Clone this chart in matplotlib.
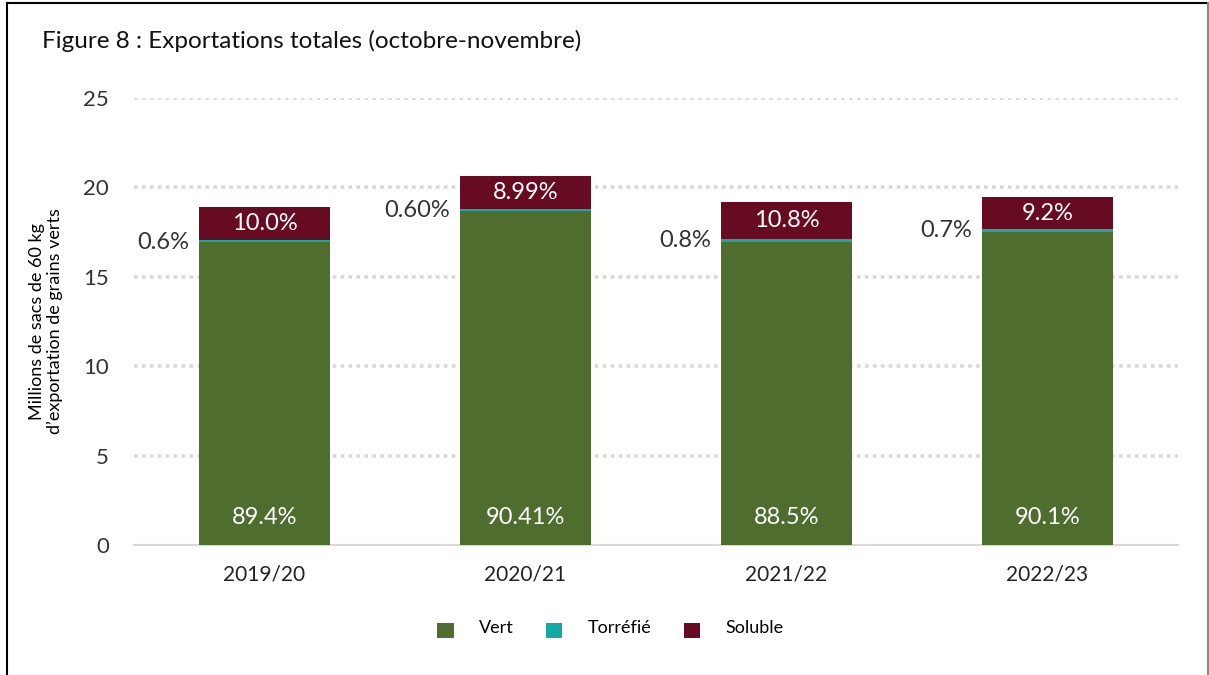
import matplotlib
matplotlib.use("Agg")
import matplotlib.pyplot as plt
from matplotlib.lines import Line2D
import numpy as np

categories = ["2019/20", "2020/21", "2021/22", "2022/23"]
vert = [16.92, 18.66, 16.97, 17.53]
torrefie = [0.12, 0.13, 0.15, 0.14]
soluble = [1.89, 1.85, 2.07, 1.79]
vert_labels = ["89.4%", "90.41%", "88.5%", "90.1%"]
torrefie_labels = ["0.6%", "0.60%", "0.8%", "0.7%"]
soluble_labels = ["10.0%", "8.99%", "10.8%", "9.2%"]
yticks = [0, 5, 10, 15, 20, 25]

c_vert = "#4E6D2F"
c_torr = "#14A9A3"
c_sol = "#670B22"

plt.rcParams['font.family'] = ['Lato', 'DejaVu Sans']

fig = plt.figure(figsize=(12.09, 6.75), dpi=100)
ax = fig.add_axes([0.1108, 0.1926, 0.8636, 0.6622])

x = np.arange(len(categories))
w = 0.5
b1 = ax.bar(x, vert, w, color=c_vert, label="Vert", zorder=3)
b2 = ax.bar(x, torrefie, w, bottom=vert, color=c_torr, label="Torréfié", zorder=3)
bottom3 = [v + t for v, t in zip(vert, torrefie)]
b3 = ax.bar(x, soluble, w, bottom=bottom3, color=c_sol, label="Soluble", zorder=3)

ax.set_xlim(-0.5, len(categories) - 0.5)
ax.set_ylim(0, 25)
ax.set_yticks(yticks)
ax.set_yticklabels([str(t) for t in yticks], fontsize=16, color="#333333")
ax.set_xticks(x)
ax.set_xticklabels(categories, fontsize=15, color="#222222")
ax.tick_params(axis="both", length=0)
ax.tick_params(axis="y", pad=18)
ax.tick_params(axis="x", pad=14)

for t in yticks[1:]:
    ax.axhline(t, color="#D9D9D9", linestyle=(0, (1, 1.2)), linewidth=2.6, zorder=1)
for s in ["top", "right", "left"]:
    ax.spines[s].set_visible(False)
ax.spines["bottom"].set_color("#D9D9D9")
ax.spines["bottom"].set_linewidth(1.5)

for i in range(len(categories)):
    ax.text(x[i], 1.55, vert_labels[i], ha="center", va="center", color="white", fontsize=17)
    ax.text(x[i], bottom3[i] + soluble[i] / 2, soluble_labels[i], ha="center", va="center",
            color="white", fontsize=17)
    ax.text(x[i] - w / 2 - 0.04, bottom3[i] - 0.1, torrefie_labels[i], ha="right", va="center",
            color="#333333", fontsize=17)

ax.set_ylabel("Millions de sacs de 60 kg\nd\u2019exportation de grains verts", fontsize=13,
              linespacing=1.1)
ax.yaxis.set_label_coords(-0.068, 0.5)

fig.text(0.035, 0.94, "Figure 8 : Exportations totales (octobre-novembre)", fontsize=17.5,
         ha="left", va="center", color="#111111")

leg = fig.legend(handles=[b1, b2, b3], labels=["Vert", "Torréfié", "Soluble"],
                 loc="center", bbox_to_anchor=(0.505, 0.064), ncol=3, frameon=False,
                 fontsize=13, handlelength=0.9, handleheight=0.9, columnspacing=1.8,
                 handletextpad=1.4)
for t in leg.get_texts():
    t.set_y(4)

# figure border
fig.add_artist(Line2D([0.006, 0.006], [0, 0.995], transform=fig.transFigure, color="black", lw=1.5))
fig.add_artist(Line2D([0.006, 0.999], [0.995, 0.995], transform=fig.transFigure, color="black", lw=1.5))
fig.add_artist(Line2D([0.999, 0.999], [0, 0.995], transform=fig.transFigure, color="#888888", lw=1.5))

fig.savefig("out.png", dpi=100)
